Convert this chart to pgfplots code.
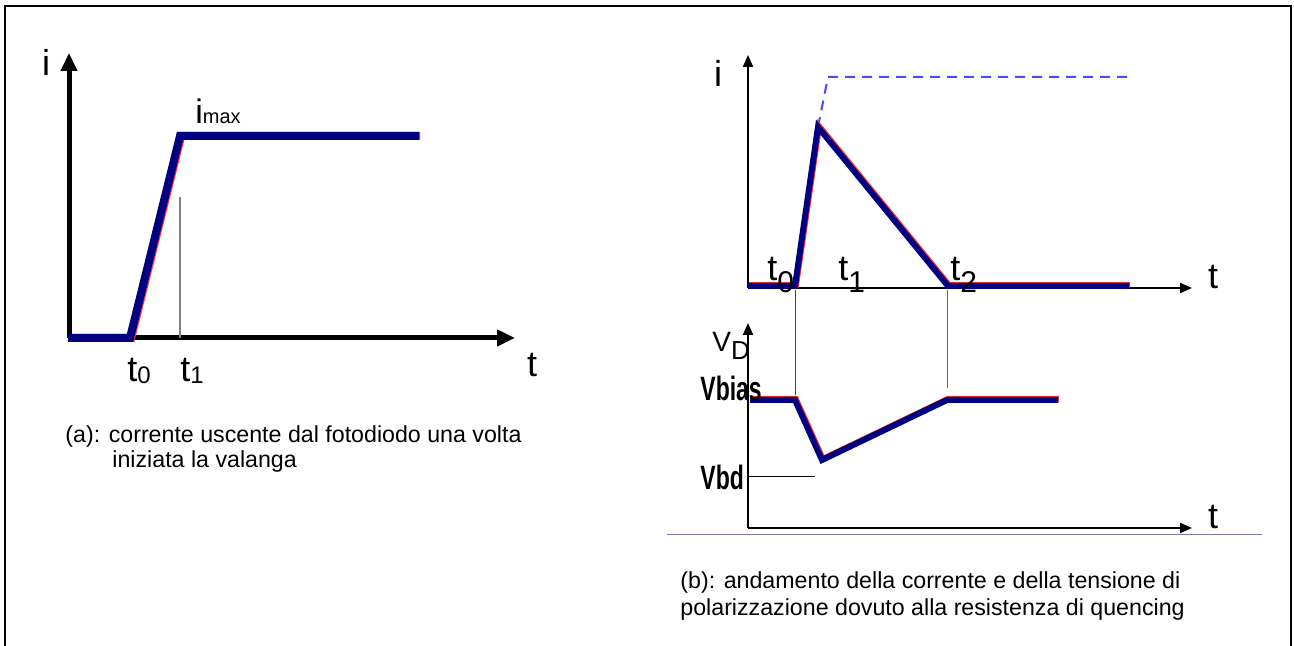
\documentclass[border=0pt]{standalone}
\usepackage{fontspec}
\setmainfont{Liberation Sans}
\usepackage{pgfplots}
\pgfplotsset{compat=1.18}
\usetikzlibrary{arrows.meta}
\definecolor{pulse}{HTML}{000080}
\definecolor{rim}{HTML}{FF3030}
\definecolor{ideal}{HTML}{4A4AFF}
\definecolor{sep}{HTML}{7A7AB8}

\pgfplotsset{
  schema/.style={
    axis lines=left, xtick=\empty, ytick=\empty,
    enlargelimits=false, clip=false,
    x=5pt, y=5pt, xmin=0, ymin=0, anchor=south west,
  },
}
\tikzset{
  big/.style={font=\fontsize{18}{20}\selectfont},
  caption/.style={anchor=west, inner sep=0pt, font=\fontsize{11.6}{13}\selectfont},
}
\newcommand\sub[1]{\raisebox{-0.6ex}{\fontsize{15}{15}\selectfont #1}}
\newcommand\level[1]{\scalebox{0.92}[1.35]{\bfseries\fontsize{12.5}{13}\selectfont #1}}

% current in (a)
\pgfplotstableread{
t    i
-0.1 0
6.1  0
11.1 20.2
35.0 20.2
}\avalanche

% current in (b), with quenching
\pgfplotstableread{
t    i
0.0  0.2
4.7  0.2
7.0  16.1
20.0 0.2
38.1 0.2
}\quenched

% current in (b) without quenching
\pgfplotstableread{
t    i
7.0  16.1
8.0  21.1
38.0 21.1
}\unquenched

% diode voltage in (b)
\pgfplotstableread{
t    v
0.2  12.8
4.7  12.8
7.4  6.8
19.9 12.8
31.0 12.8
}\bias

\begin{document}
\begin{tikzpicture}[x=0.5pt,y=0.5pt]
\useasboundingbox (0,0) rectangle (1294,646);
\draw[line width=1pt] (5,0) -- (5,640) -- (1291,640) -- (1291,0);

% ---------- (a) ----------
\begin{axis}[schema, at={(69,308)}, xmax=44.6, ymax=28.5,
  axis line style={line width=2.5pt, -{Triangle[length=9pt,width=8pt]}}]
  \addplot[gray, line width=0.7pt] coordinates {(11.1,0) (11.1,14.1)};
  \addplot[rim, line width=4pt, xshift=0.6pt] table {\avalanche};
  \addplot[pulse, line width=4pt] table {\avalanche};
  \node[big, anchor=center] at (axis cs:-2.3,27.6) {i};
  \node[big, anchor=center] at (axis cs:46.3,-2.7) {t};
  \node[big, anchor=base west, inner sep=0pt] at (axis cs:5.8,-4.4) {t\raisebox{-0.1ex}{\fontsize{12}{12}\selectfont 0}};
  \node[big, anchor=base west, inner sep=0pt] at (axis cs:11.1,-4.4) {t\raisebox{-0.1ex}{\fontsize{12}{12}\selectfont 1}};
  \node[anchor=base west, inner sep=0pt] at (axis cs:12.6,21.4) {\fontsize{17}{17}\selectfont i\fontsize{10}{10}\selectfont max};
\end{axis}

\node[caption] at (65,209) {(a): corrente uscente dal fotodiodo una volta};
\node[caption] at (112,184) {iniziata la valanga};

% ---------- (b), current ----------
\begin{axis}[schema, at={(748,358)}, xmax=44.4, ymax=23.3,
  axis line style={line width=1pt, -{Triangle[length=6pt,width=5pt]}}]
  \addplot[ideal, line width=1pt, dash pattern=on 5pt off 3.5pt] table {\unquenched};
  \addplot[rim, line width=3pt, xshift=0.5pt, yshift=0.4pt] table {\quenched};
  \addplot[pulse, line width=3pt] table {\quenched};
  \node[big, anchor=center] at (axis cs:-3.0,21.5) {i};
  \node[big, anchor=center] at (axis cs:46.5,1.1) {t};
  \node[big, anchor=base west, inner sep=0pt] at (axis cs:1.9,0.7) {t\sub{0}};
  \node[big, anchor=base west, inner sep=0pt] at (axis cs:9.0,0.7) {t\sub{1}};
  \node[big, anchor=base west, inner sep=0pt] at (axis cs:20.2,0.7) {t\sub{2}};
\end{axis}

% ---------- (b), voltage ----------
\begin{axis}[schema, at={(748,118)}, xmax=44.4, ymax=20.5,
  axis line style={line width=1pt, -{Triangle[length=6pt,width=5pt]}}]
  \addplot[black!75, line width=0.5pt] coordinates {(4.7,13.3) (4.7,23.8)};
  \addplot[black!60, line width=0.5pt] coordinates {(19.9,14.0) (19.9,23.8)};
  \addplot[black, line width=0.5pt] coordinates {(0,5.1) (6.7,5.1)};
  \addplot[rim, line width=3pt, xshift=0.4pt, yshift=0.5pt] table {\bias};
  \addplot[pulse, line width=3pt] table {\bias};
  \node[anchor=base west, inner sep=0pt] at (axis cs:-3.6,17.6) {\fontsize{14}{14}\selectfont V\raisebox{-0.5ex}{\fontsize{13}{13}\selectfont D}};
  \node[anchor=west, inner sep=0pt] at (axis cs:-4.8,14.0) {\level{Vbias}};
  \node[anchor=west, inner sep=0pt] at (axis cs:-4.8,5.1) {\level{Vbd}};
  \node[big, anchor=center] at (axis cs:46.5,1.1) {t};
\end{axis}

\draw[sep, line width=0.5pt] (667,111) -- (1262,111);

\node[caption] at (680,63) {(b): andamento della corrente e della tensione di};
\node[caption] at (680,36) {polarizzazione dovuto alla resistenza di quencing};
\end{tikzpicture}
\end{document}
